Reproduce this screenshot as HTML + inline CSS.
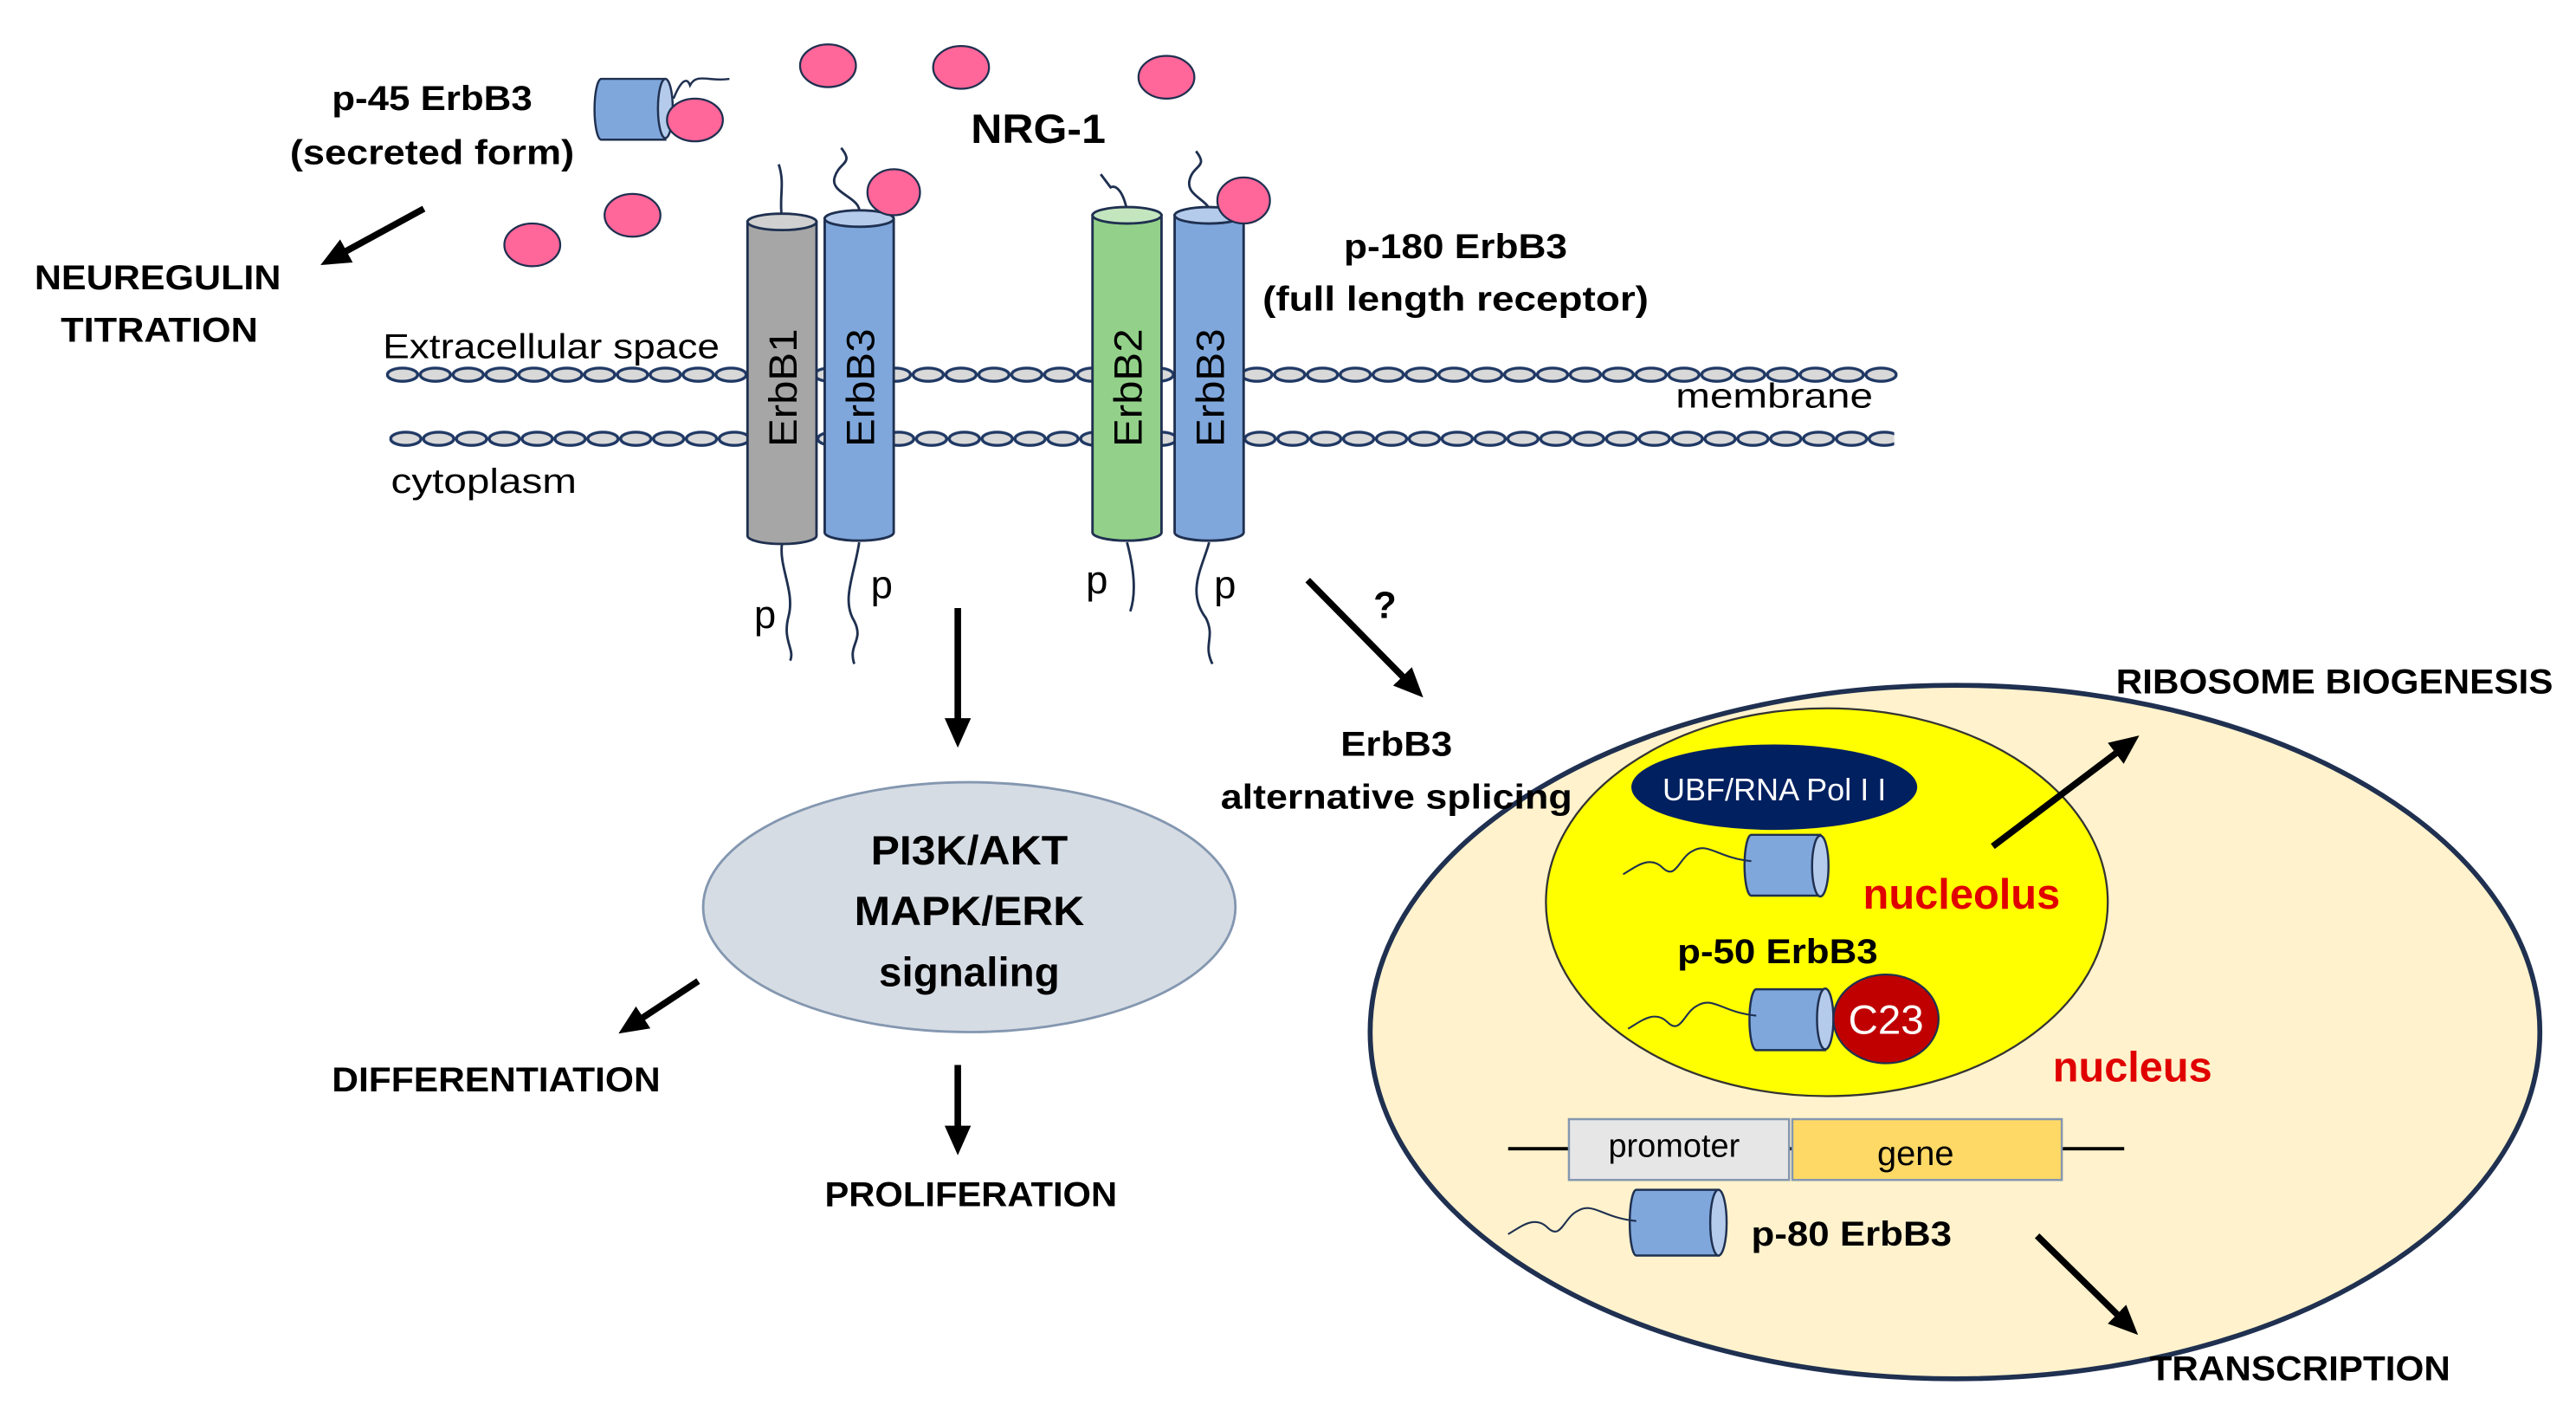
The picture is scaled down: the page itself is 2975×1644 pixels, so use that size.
<!DOCTYPE html>
<html><head><meta charset="utf-8"><style>html,body{margin:0;padding:0;background:#fff}svg{display:block}</style></head>
<body>
<svg width="2975" height="1644" viewBox="0 0 1568 866.5" preserveAspectRatio="none" xmlns="http://www.w3.org/2000/svg" font-family="Liberation Sans, sans-serif">
<defs>
<pattern id="mem1" patternUnits="userSpaceOnUse" width="20" height="12" x="235" y="222">
<ellipse cx="10" cy="6" rx="9.2" ry="4" fill="#d9d9d9" stroke="#1f3864" stroke-width="1.8"/>
</pattern>
<pattern id="mem2" patternUnits="userSpaceOnUse" width="20" height="12" x="237" y="261">
<ellipse cx="10" cy="6" rx="9.2" ry="4" fill="#d9d9d9" stroke="#1f3864" stroke-width="1.8"/>
</pattern>
<marker id="ah" markerWidth="18" markerHeight="18" refX="9" refY="9" orient="auto" markerUnits="userSpaceOnUse" viewBox="0 0 18 18">
<path d="M0,1 L18,9 L0,17 z" fill="#000"/>
</marker>
</defs>
<rect width="1568" height="866.5" fill="#fff"/>

<!-- membrane -->
<rect x="235" y="222" width="920" height="12" fill="url(#mem1)"/>
<rect x="237" y="261" width="916" height="12" fill="url(#mem2)"/>

<!-- nucleus -->
<ellipse cx="1190" cy="628" rx="356" ry="211" fill="#fff2cc" stroke="#1f3050" stroke-width="3"/>
<ellipse cx="1112" cy="549" rx="171" ry="118" fill="#ffff00" stroke="#333" stroke-width="1.2"/>
<ellipse cx="1080" cy="479" rx="87" ry="26" fill="#002060"/>
<text x="1080" y="487" font-size="19" fill="#fff" text-anchor="middle">UBF/RNA Pol I I</text>

<!-- PI3K -->
<ellipse cx="590" cy="552" rx="162" ry="76" fill="#d6dce4" stroke="#8497b0" stroke-width="1.5"/>
<g font-weight="bold" font-size="25" text-anchor="middle" fill="#000">
<text x="590" y="526" textLength="120" lengthAdjust="spacingAndGlyphs">PI3K/AKT</text>
<text x="590" y="563" textLength="140" lengthAdjust="spacingAndGlyphs">MAPK/ERK</text>
<text x="590" y="600" textLength="110" lengthAdjust="spacingAndGlyphs">signaling</text>
</g>

<!-- receptor tails -->
<g fill="none" stroke="#1f3050" stroke-width="1.5">
<path d="M476,133 C474,120 478,112 474,100"/>
<path d="M523,130 C525,120 505,118 508,108 C511,98 520,100 512,90"/>
<path d="M686,128 C684,118 680,112 676,114 L670,106"/>
<path d="M736,130 C738,122 722,120 724,110 C726,100 736,102 728,92"/>
<path d="M476,331 C474,345 484,360 480,375 C476,390 484,395 481,402"/>
<path d="M523,330 C520,350 512,365 520,378 C526,390 516,392 520,404"/>
<path d="M686,330 C690,345 692,360 688,372"/>
<path d="M736,330 C732,345 722,360 734,376 C740,388 732,392 738,404"/>
</g>

<!-- cylinders -->
<g stroke="#1f3050" stroke-width="1.5">
<path d="M455,135 V326 A21,5 0 0 0 497,326 V135 Z" fill="#a6a6a6"/>
<ellipse cx="476" cy="135" rx="21" ry="5" fill="#d0d0d0"/>
<path d="M502,133 V324 A21,5 0 0 0 544,324 V133 Z" fill="#7fa7dc"/>
<ellipse cx="523" cy="133" rx="21" ry="5" fill="#b4cbec"/>
<path d="M665,131 V324 A21,5 0 0 0 707,324 V131 Z" fill="#93d18a"/>
<ellipse cx="686" cy="131" rx="21" ry="5" fill="#c4e6bf"/>
<path d="M715,131 V324 A21,5 0 0 0 757,324 V131 Z" fill="#7fa7dc"/>
<ellipse cx="736" cy="131" rx="21" ry="5" fill="#b4cbec"/>
</g>
<g font-size="24" fill="#000">
<text transform="translate(485,236) rotate(-90)" text-anchor="middle" textLength="72" lengthAdjust="spacingAndGlyphs">ErbB1</text>
<text transform="translate(532,236) rotate(-90)" text-anchor="middle" textLength="72" lengthAdjust="spacingAndGlyphs">ErbB3</text>
<text transform="translate(695,236) rotate(-90)" text-anchor="middle" textLength="72" lengthAdjust="spacingAndGlyphs">ErbB2</text>
<text transform="translate(745,236) rotate(-90)" text-anchor="middle" textLength="72" lengthAdjust="spacingAndGlyphs">ErbB3</text>
<text x="459" y="382">p</text>
<text x="530" y="364">p</text>
<text x="661" y="361">p</text>
<text x="739" y="364">p</text>
</g>

<!-- NRG circles -->
<g fill="#ff6699" stroke="#1f3050" stroke-width="1.2">
<ellipse cx="504" cy="40" rx="17" ry="13"/>
<ellipse cx="585" cy="41" rx="17" ry="13"/>
<ellipse cx="710" cy="47" rx="17" ry="13"/>
<ellipse cx="324" cy="149" rx="17" ry="13"/>
<ellipse cx="385" cy="131" rx="17" ry="13"/>
<ellipse cx="544" cy="117" rx="16" ry="14"/>
<ellipse cx="757" cy="122" rx="16" ry="14"/>
</g>

<!-- secreted cylinder -->
<g stroke="#1f3050" stroke-width="1.3">
<path d="M405,48 H366 A4,18 0 0 0 366,85 H405 Z" fill="#7fa7dc"/>
<ellipse cx="405" cy="66" rx="4.5" ry="18" fill="#b4cbec"/>
<path d="M410,60 C414,50 418,46 420,52 C424,44 432,50 444,48" fill="none"/>
</g>
<ellipse cx="423" cy="73" rx="17" ry="13" fill="#ff6699" stroke="#1f3050" stroke-width="1.2"/>

<!-- nucleolus cylinders -->
<g stroke="#1f3050" stroke-width="1.3">
<path d="M1108,508 H1066 A4,18 0 0 0 1066,545 H1108 Z" fill="#7fa7dc"/>
<ellipse cx="1108" cy="527" rx="5" ry="18.5" fill="#b4cbec"/>
<path d="M1066,524 C1045,522 1040,512 1030,518 C1022,522 1020,536 1012,528 C1004,520 995,528 988,532" fill="none" stroke-width="1.1"/>
<path d="M1111,602 H1069 A4,18 0 0 0 1069,639 H1111 Z" fill="#7fa7dc"/>
<ellipse cx="1111" cy="620" rx="5" ry="18.5" fill="#b4cbec"/>
<path d="M1069,618 C1048,616 1043,606 1033,612 C1025,616 1023,630 1015,622 C1007,614 998,622 991,626" fill="none" stroke-width="1.1"/>
<path d="M1046,724 H996 A4,20 0 0 0 996,764 H1046 Z" fill="#7fa7dc"/>
<ellipse cx="1046" cy="744" rx="5" ry="20" fill="#b4cbec"/>
<path d="M996,743 C975,741 970,731 960,737 C952,741 950,755 942,747 C934,739 925,747 918,751" fill="none" stroke-width="1.1"/>
</g>
<ellipse cx="1148" cy="620" rx="32" ry="27" fill="#c00000" stroke="#1f3050" stroke-width="1.2"/>
<text x="1148" y="629" font-size="25" fill="#fff" text-anchor="middle">C23</text>

<!-- gene -->
<line x1="918" y1="699" x2="1293" y2="699" stroke="#000" stroke-width="2"/>
<rect x="955" y="681" width="134" height="37" fill="#e7e6e6" stroke="#8497b0" stroke-width="1.3"/>
<rect x="1091" y="681" width="164" height="37" fill="#ffd966" stroke="#8497b0" stroke-width="1.3"/>
<text x="1019" y="704" font-size="20" text-anchor="middle">promoter</text>
<text x="1166" y="709" font-size="21" text-anchor="middle">gene</text>

<!-- arrows -->
<g stroke="#000" stroke-width="4" marker-end="url(#ah)">
<line x1="258" y1="127" x2="203" y2="157"/>
<line x1="583" y1="370" x2="583" y2="446"/>
<line x1="796" y1="353" x2="860" y2="418"/>
<line x1="425" y1="597" x2="384" y2="624"/>
<line x1="583" y1="648" x2="583" y2="694"/>
<line x1="1213" y1="515" x2="1295" y2="453"/>
<line x1="1240" y1="752" x2="1295" y2="806"/>
</g>

<!-- labels -->
<g font-weight="bold" font-size="21" fill="#000" text-anchor="middle">
<text x="263" y="67" textLength="122" lengthAdjust="spacingAndGlyphs">p-45 ErbB3</text>
<text x="263" y="100" textLength="173" lengthAdjust="spacingAndGlyphs">(secreted form)</text>
<text x="96" y="176" textLength="150" lengthAdjust="spacingAndGlyphs">NEUREGULIN</text>
<text x="97" y="208" textLength="120" lengthAdjust="spacingAndGlyphs">TITRATION</text>
<text x="632" y="87" font-size="25" textLength="82" lengthAdjust="spacingAndGlyphs">NRG-1</text>
<text x="886" y="157" textLength="136" lengthAdjust="spacingAndGlyphs">p-180 ErbB3</text>
<text x="886" y="189" textLength="235" lengthAdjust="spacingAndGlyphs">(full length receptor)</text>
<text x="843" y="376" font-size="23">?</text>
<text x="850" y="460" textLength="68" lengthAdjust="spacingAndGlyphs">ErbB3</text>
<text x="850" y="492" textLength="214" lengthAdjust="spacingAndGlyphs">alternative splicing</text>
<text x="302" y="664" textLength="200" lengthAdjust="spacingAndGlyphs">DIFFERENTIATION</text>
<text x="591" y="734" textLength="178" lengthAdjust="spacingAndGlyphs">PROLIFERATION</text>
<text x="1421" y="422" textLength="266" lengthAdjust="spacingAndGlyphs">RIBOSOME BIOGENESIS</text>
<text x="1400" y="840" textLength="183" lengthAdjust="spacingAndGlyphs">TRANSCRIPTION</text>
<text x="1082" y="586" textLength="122" lengthAdjust="spacingAndGlyphs">p-50 ErbB3</text>
<text x="1127" y="758" textLength="122" lengthAdjust="spacingAndGlyphs">p-80 ErbB3</text>
<text x="1194" y="553" font-size="26" fill="#e00000" textLength="120" lengthAdjust="spacingAndGlyphs">nucleolus</text>
<text x="1298" y="658" font-size="26" fill="#e00000" textLength="97" lengthAdjust="spacingAndGlyphs">nucleus</text>
</g>
<g font-size="21" fill="#000">
<text x="233" y="218" textLength="205" lengthAdjust="spacingAndGlyphs">Extracellular space</text>
<text x="238" y="300" textLength="113" lengthAdjust="spacingAndGlyphs">cytoplasm</text>
<text x="1020" y="248" textLength="120" lengthAdjust="spacingAndGlyphs">membrane</text>
</g>
</svg>
</body></html>
